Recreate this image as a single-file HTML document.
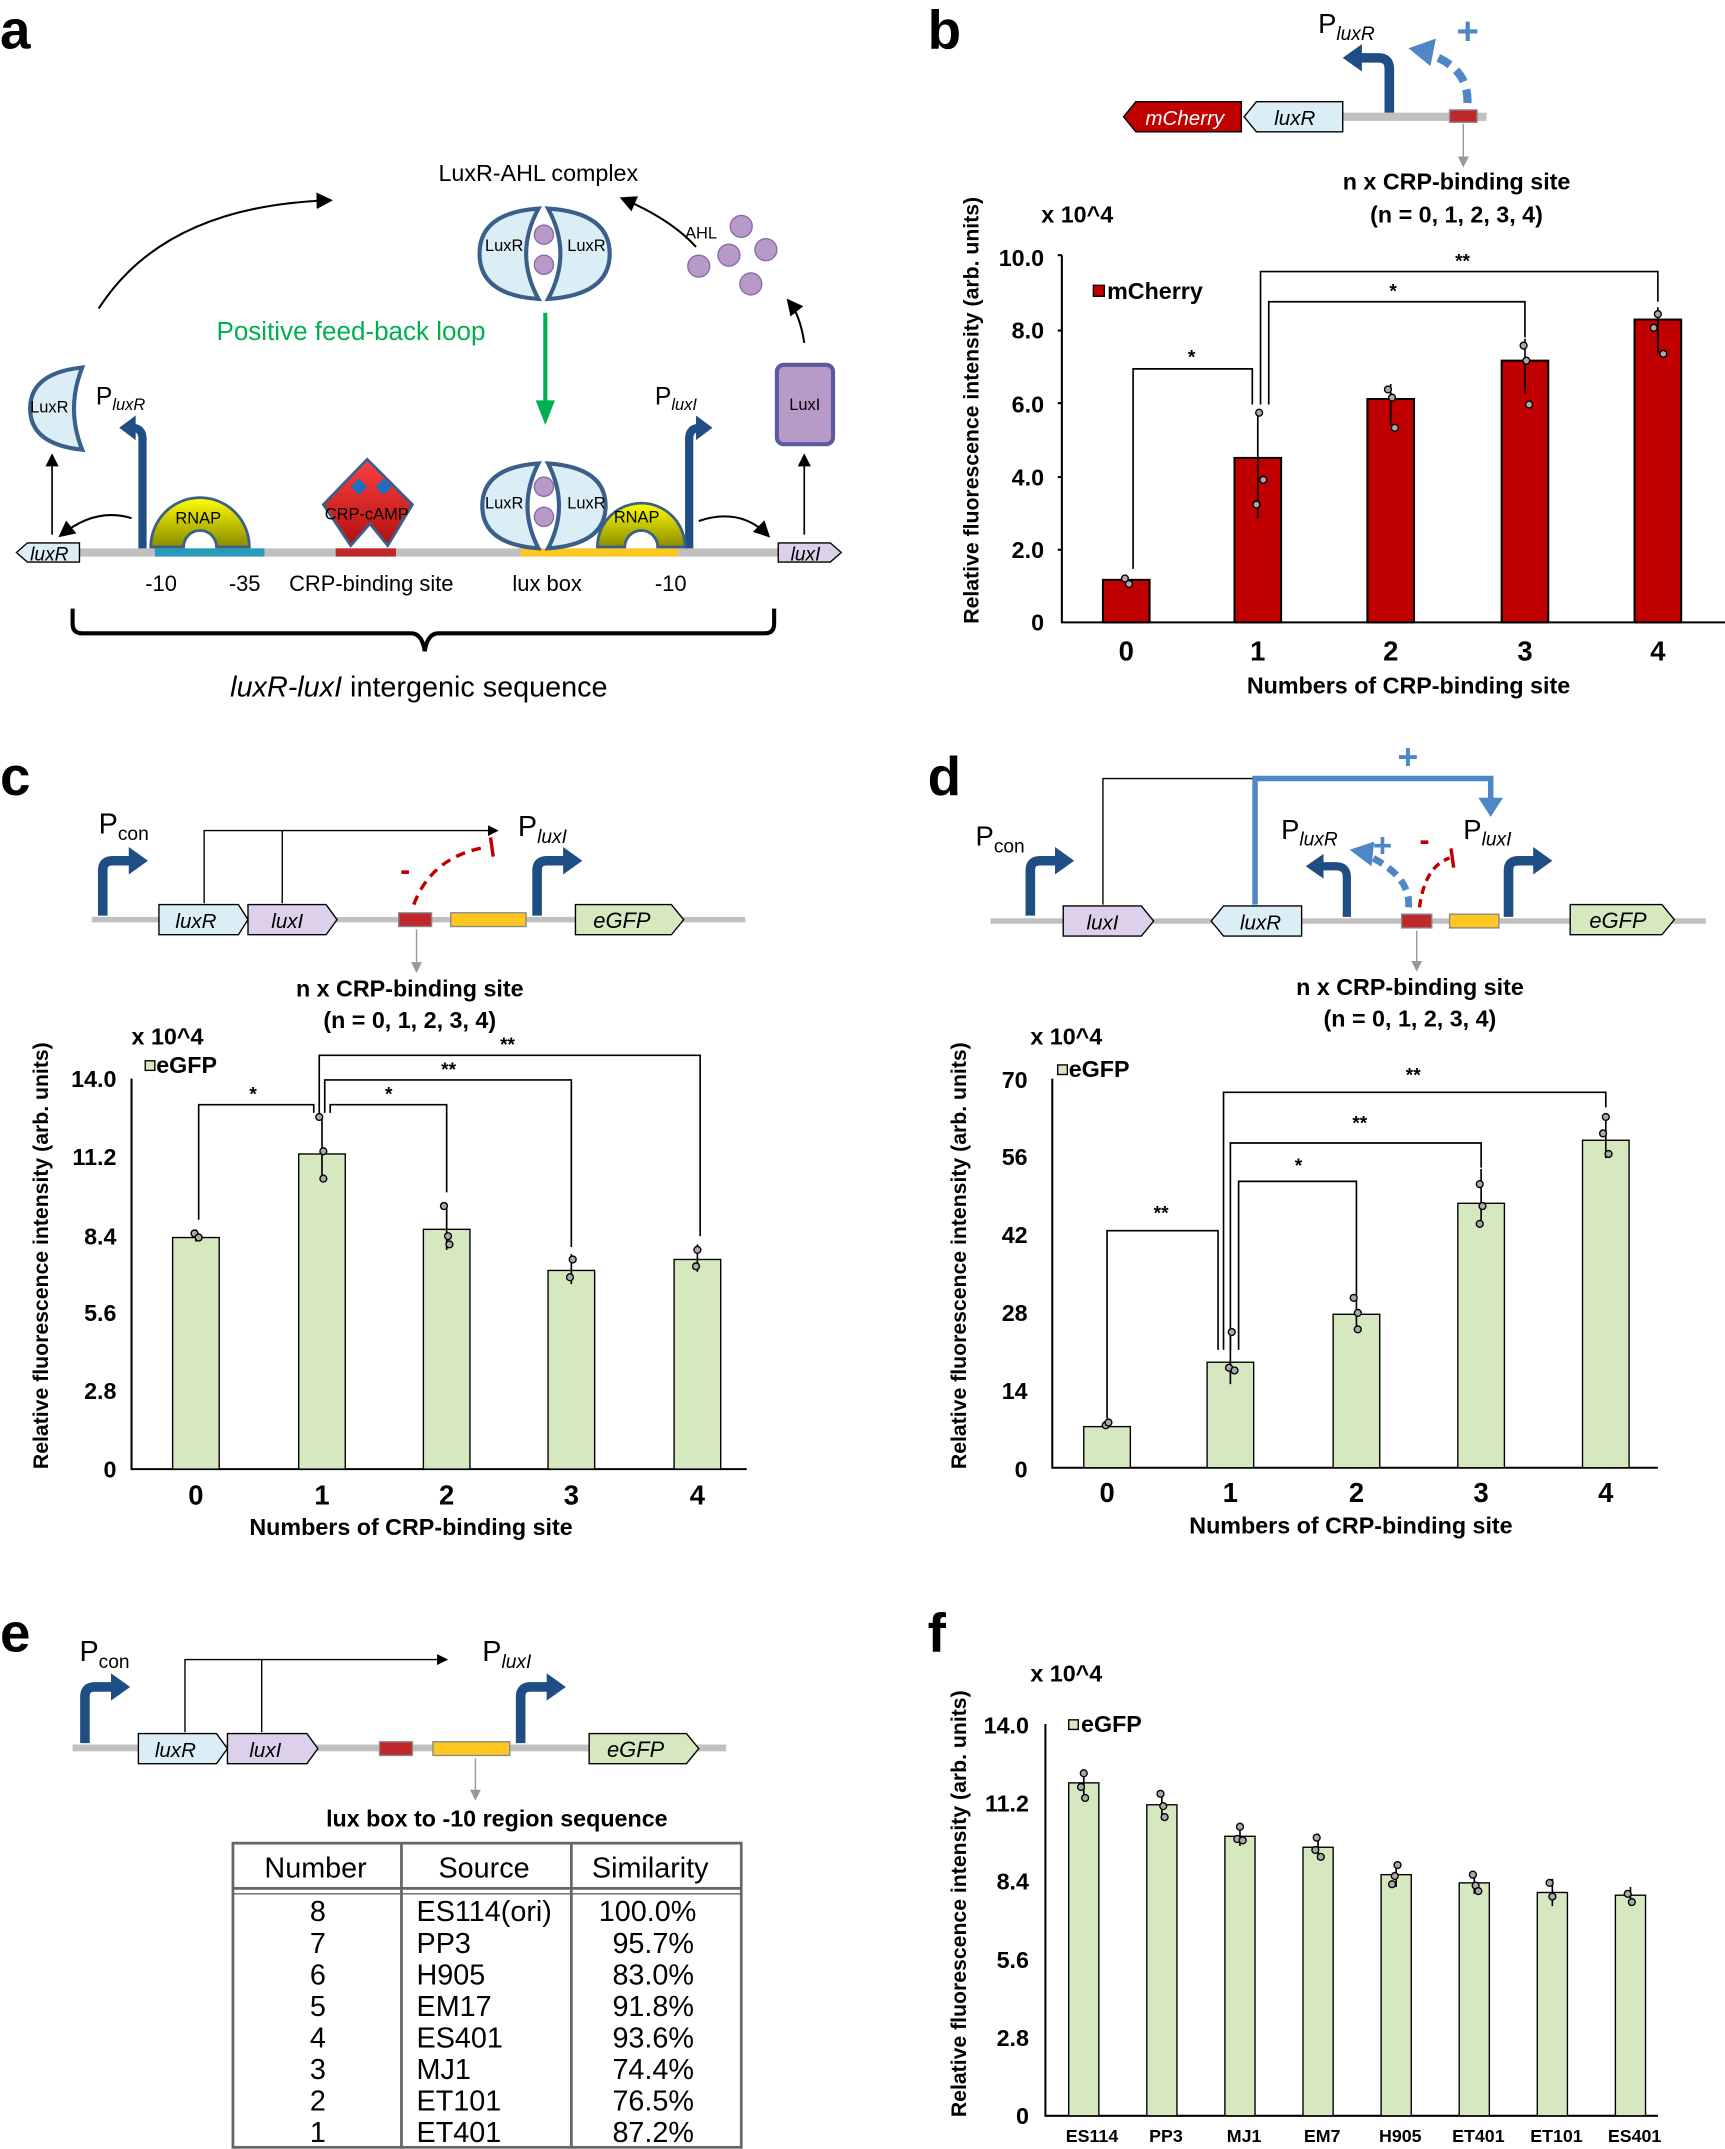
<!DOCTYPE html>
<html><head><meta charset="utf-8"><style>html,body{margin:0;padding:0;background:#fff}svg{display:block}text{font-family:"Liberation Sans",Arial,sans-serif}</style></head><body>
<svg width="1725" height="2149" viewBox="0 0 1259 1568" xmlns="http://www.w3.org/2000/svg">
<defs>
<marker id="ah" markerWidth="8" markerHeight="8" refX="6" refY="4" orient="auto"><path d="M0,0 L8,4 L0,8 z" fill="#000"/></marker>
<marker id="gh" markerWidth="8" markerHeight="8" refX="4" refY="4" orient="auto"><path d="M0,0 L8,4 L0,8 z" fill="#999"/></marker>
<linearGradient id="yg" x1="0" y1="0" x2="0" y2="1"><stop offset="0" stop-color="#ffff00"/><stop offset="1" stop-color="#8a8a00"/></linearGradient>
<linearGradient id="rg" x1="0" y1="0" x2="0" y2="1"><stop offset="0" stop-color="#ff4040"/><stop offset="1" stop-color="#b01010"/></linearGradient>
</defs>
<g font-weight="bold" font-size="40">
<text x="0" y="35">a</text><text x="677" y="35">b</text><text x="0" y="580">c</text><text x="677" y="580">d</text><text x="0" y="1205">e</text><text x="677" y="1205">f</text></g>

<!-- Panel a -->
<g>
<path d="M72,225 Q120,150 240,146" stroke="#000" fill="none" stroke-width="1.5" marker-end="url(#ah)"/>
<path d="M508,180 Q490,160 455,145" stroke="#000" fill="none" stroke-width="1.5" marker-end="url(#ah)"/>
<path d="M587,250 Q584,230 576,220" stroke="#000" fill="none" stroke-width="1.5" marker-end="url(#ah)"/>
<text x="320" y="132" font-size="17">LuxR-AHL complex</text>
<text x="500" y="174" font-size="12">AHL</text>
<g fill="#b89ac8" stroke="#8a6aa8"><circle cx="541" cy="165" r="8"/><circle cx="532" cy="186" r="8"/><circle cx="559" cy="182" r="8"/><circle cx="510" cy="194" r="8"/><circle cx="548" cy="207" r="8"/></g>
<g stroke="#3a5f8a" stroke-width="3" fill="#dbeef5">
<path d="M393,152 Q350,155 350,185 Q350,215 393,218 Q375,185 393,152z"/>
<path d="M400,152 Q445,155 445,185 Q445,215 400,218 Q418,185 400,152z"/></g>
<text x="354" y="183" font-size="12">LuxR</text><text x="414" y="183" font-size="12">LuxR</text>
<circle cx="397" cy="171" r="7" fill="#b89ac8" stroke="#8a6aa8"/><circle cx="397" cy="193" r="7" fill="#b89ac8" stroke="#8a6aa8"/>
<text x="158" y="248" font-size="19" fill="#00b050">Positive feed-back loop</text>
<line x1="398" y1="228" x2="398" y2="300" stroke="#00b050" stroke-width="3"/><path d="M391,292 L405,292 L398,310z" fill="#00b050"/>
<path d="M60,268 Q22,272 22,298 Q22,324 60,328 Q48,298 60,268z" fill="#dbeef5" stroke="#3a5f8a" stroke-width="3"/>
<text x="22" y="301" font-size="12">LuxR</text>
<text x="70" y="295" font-size="18">P<tspan font-size="12" font-style="italic" dy="4">luxR</tspan></text>
<text x="478" y="295" font-size="18">P<tspan font-size="12" font-style="italic" dy="4">luxI</tspan></text>
<rect x="567" y="266" width="41" height="58" rx="5" fill="#b89ac8" stroke="#5a5aa0" stroke-width="3"/>
<text x="576" y="299" font-size="12">LuxI</text>
<line x1="38" y1="390" x2="38" y2="333" stroke="#000" stroke-width="1.2" marker-end="url(#ah)"/>
<line x1="587" y1="390" x2="587" y2="333" stroke="#000" stroke-width="1.2" marker-end="url(#ah)"/>
<rect x="50" y="400" width="520" height="6" fill="#c0c0c0"/>
<rect x="113" y="400" width="80" height="6" fill="#2a9ab8"/><rect x="245" y="400" width="44" height="6" fill="#c0282c"/><rect x="380" y="400" width="115" height="6" fill="#ffc820"/>
<path d="M12,403 L20,396 L58,396 L58,410 L20,410z" fill="#dbeef5" stroke="#000"/><text x="22" y="409" font-size="14" font-style="italic">luxR</text>
<path d="M568,396 L606,396 L614,403 L606,410 L568,410z" fill="#ddd0ea" stroke="#000"/><text x="577" y="409" font-size="14" font-style="italic">luxI</text>
<path d="M104,400 L104,320 Q104,312 96,312" stroke="#1f4e85" stroke-width="6" fill="none"/><path d="M87,312 L99,303 L99,321z" fill="#1f4e85"/>
<path d="M503,400 L503,320 Q503,312 511,312" stroke="#1f4e85" stroke-width="6" fill="none"/><path d="M520,312 L508,303 L508,321z" fill="#1f4e85"/>
<path d="M96,378 Q70,370 45,390" stroke="#000" fill="none" stroke-width="1.5" marker-end="url(#ah)"/>
<path d="M510,380 Q540,370 560,390" stroke="#000" fill="none" stroke-width="1.5" marker-end="url(#ah)"/>
<path d="M110,399 A36,36 0 0 1 182,399 L158,399 A12,12 0 0 0 134,399 z" fill="url(#yg)" stroke="#3a5f8a" stroke-width="2"/>
<text x="128" y="382" font-size="12">RNAP</text>
<path d="M436,399 A32,32 0 0 1 500,399 L480,399 A12,12 0 0 0 456,399 z" fill="url(#yg)" stroke="#3a5f8a" stroke-width="2"/>
<path d="M268,335 L301,368 L283,398 L270,382 L256,398 L236,368z" fill="url(#rg)" stroke="#3a5f8a" stroke-width="2"/>
<path d="M262,349 L268,355 L262,361 L256,355z M280,349 L286,355 L280,361 L274,355z" fill="#1f6fbf"/>
<text x="237" y="379" font-size="12">CRP-cAMP</text>
<g stroke="#3a5f8a" stroke-width="3" fill="#dbeef5">
<path d="M393,338 Q352,341 352,369 Q352,397 393,400 Q377,369 393,338z"/>
<path d="M400,338 Q442,341 442,369 Q442,397 400,400 Q416,369 400,338z"/></g>
<text x="448" y="381" font-size="12">RNAP</text>
<text x="354" y="371" font-size="12">LuxR</text><text x="414" y="371" font-size="12">LuxR</text>
<circle cx="397" cy="355" r="7" fill="#b89ac8" stroke="#8a6aa8"/><circle cx="397" cy="377" r="7" fill="#b89ac8" stroke="#8a6aa8"/>
<g font-size="16"><text x="106" y="431">-10</text><text x="167" y="431">-35</text><text x="211" y="431">CRP-binding site</text><text x="374" y="431">lux box</text><text x="478" y="431">-10</text></g>
<path d="M53,444 L53,455 Q53,462 60,462 L300,462 Q308,462 310,475 Q312,462 320,462 L558,462 Q565,462 565,455 L565,444" stroke="#000" stroke-width="3" fill="none"/>
<text x="168" y="508" font-size="21"><tspan font-style="italic">luxR-luxI</tspan> intergenic sequence</text>
</g>

<!-- Panel b -->
<g>
<rect x="980" y="82" width="105" height="6" fill="#c0c0c0"/><rect x="1058" y="80" width="20" height="9" fill="#c0282c" stroke="#888"/>
<path d="M820,85 L829,74 L906,74 L906,96 L829,96z" fill="#c00000" stroke="#000"/><text x="836" y="91" font-size="15" font-style="italic" fill="#fff">mCherry</text>
<path d="M908,85 L917,74 L980,74 L980,96 L917,96z" fill="#dbeef5" stroke="#000"/><text x="930" y="91" font-size="15" font-style="italic">luxR</text>
<path d="M1014,82 L1014,50 Q1014,42 1006,42 L992,42" stroke="#1f4e85" stroke-width="7" fill="none"/><path d="M980,42 L994,32 L994,52z" fill="#1f4e85"/>
<path d="M1071,75 Q1072,50 1045,40" stroke="#4f86c6" stroke-width="6" fill="none" stroke-dasharray="10,6"/><path d="M1028,35 L1048,28 L1044,48z" fill="#4f86c6"/>
<text x="1063" y="32" font-size="28" font-weight="bold" fill="#4f86c6">+</text>
<text x="962" y="24" font-size="20">P<tspan font-size="14" font-style="italic" dy="5">luxR</tspan></text>
<line x1="1068" y1="90" x2="1068" y2="118" stroke="#999" marker-end="url(#gh)"/>
<g font-size="17" font-weight="bold"><text x="980" y="138">n x CRP-binding site</text><text x="1000" y="162">(n = 0, 1, 2, 3, 4)</text><text x="760" y="162">x 10^4</text>
<text x="762" y="194" text-anchor="end">10.0</text><text x="762" y="247" text-anchor="end">8.0</text><text x="762" y="301" text-anchor="end">6.0</text><text x="762" y="354" text-anchor="end">4.0</text><text x="762" y="407" text-anchor="end">2.0</text><text x="762" y="460" text-anchor="end">0</text>
<text x="822" y="482" text-anchor="middle" font-size="20">0</text><text x="918" y="482" text-anchor="middle" font-size="20">1</text><text x="1015" y="482" text-anchor="middle" font-size="20">2</text><text x="1113" y="482" text-anchor="middle" font-size="20">3</text><text x="1210" y="482" text-anchor="middle" font-size="20">4</text>
<text x="1028" y="506" text-anchor="middle">Numbers of CRP-binding site</text>
<text x="808" y="218">mCherry</text>
<text transform="translate(714,455) rotate(-90)" font-size="15.5">Relative fluorescence intensity (arb. units)</text></g>
<rect x="798" y="208" width="8" height="8" fill="#c00000" stroke="#000"/>
<path d="M775,186 L775,454 L1259,454" stroke="#000" stroke-width="1.5" fill="none"/>
<g stroke="#000" stroke-width="1.5"><line x1="772" y1="186" x2="775" y2="186"/><line x1="772" y1="241" x2="775" y2="241"/><line x1="772" y1="294" x2="775" y2="294"/><line x1="772" y1="348" x2="775" y2="348"/><line x1="772" y1="401" x2="775" y2="401"/></g>
<g fill="#c00000" stroke="#000" stroke-width="1.5"><rect x="805" y="423" width="34" height="31"/><rect x="901" y="334" width="34" height="120"/><rect x="998" y="291" width="34" height="163"/><rect x="1096" y="263" width="34" height="191"/><rect x="1193" y="233" width="34" height="221"/></g>
<g stroke="#000" stroke-width="1.2" fill="none">
<path d="M918,302 L918,378 M1015,280 L1015,310 M1113,247 L1113,287 M1210,224 L1210,258"/>
<path d="M827,415 L827,269 L914,269 L914,295 M920,295 L920,198 L1210,198 L1210,220 M926,295 L926,220 L1113,220 L1113,246"/></g>
<g fill="#aaa" stroke="#000" stroke-width="1"><circle cx="821" cy="422" r="2.5"/><circle cx="824" cy="426" r="2.5"/><circle cx="919" cy="301" r="2.5"/><circle cx="922" cy="350" r="2.5"/><circle cx="917" cy="368" r="2.5"/><circle cx="1013" cy="284" r="2.5"/><circle cx="1016" cy="290" r="2.5"/><circle cx="1018" cy="312" r="2.5"/><circle cx="1112" cy="252" r="2.5"/><circle cx="1114" cy="263" r="2.5"/><circle cx="1116" cy="295" r="2.5"/><circle cx="1210" cy="229" r="2.5"/><circle cx="1207" cy="239" r="2.5"/><circle cx="1214" cy="258" r="2.5"/></g>
<g font-size="14" font-weight="bold"><text x="867" y="265">*</text><text x="1014" y="217">*</text><text x="1062" y="195">**</text></g>
</g>

<!-- Panel c -->
<g>
<rect x="67" y="669" width="477" height="4" fill="#c0c0c0"/>
<path d="M75,668 L75,635 Q75,628 82,628 L96,628" stroke="#1f4e85" stroke-width="7" fill="none"/><path d="M108,628 L94,618 L94,638z" fill="#1f4e85"/>
<text x="72" y="608" font-size="21">P<tspan font-size="14" dy="5">con</tspan></text>
<path d="M116,660 L174,660 L181,671 L174,682 L116,682z" fill="#dbeef5" stroke="#000"/><text x="128" y="677" font-size="15" font-style="italic">luxR</text>
<path d="M181,660 L238,660 L246,671 L238,682 L181,682z" fill="#ddd0ea" stroke="#000"/><text x="198" y="677" font-size="15" font-style="italic">luxI</text>
<path d="M149,659 L149,606 L362,606" stroke="#000" fill="none" marker-end="url(#ah)"/><path d="M206,659 L206,606" stroke="#000" fill="none"/>
<rect x="291" y="666" width="24" height="10" fill="#c0282c" stroke="#888"/><rect x="329" y="666" width="55" height="10" fill="#ffc820" stroke="#888"/>
<path d="M392,668 L392,635 Q392,628 399,628 L412,628" stroke="#1f4e85" stroke-width="7" fill="none"/><path d="M425,628 L411,618 L411,638z" fill="#1f4e85"/>
<text x="378" y="610" font-size="21">P<tspan font-size="14" font-style="italic" dy="5">luxI</tspan></text>
<path d="M420,660 L490,660 L499,671 L490,682 L420,682z" fill="#d5e8c0" stroke="#000"/><text x="433" y="677" font-size="16" font-style="italic">eGFP</text>
<path d="M302,660 Q315,625 355,618" stroke="#c00000" stroke-width="2.5" stroke-dasharray="7,5" fill="none"/><line x1="358" y1="611" x2="360" y2="625" stroke="#c00000" stroke-width="2.5"/>
<text x="292" y="642" font-size="22" fill="#c00000" font-weight="bold">-</text>
<line x1="304" y1="678" x2="304" y2="706" stroke="#999" marker-end="url(#gh)"/>
<g font-size="17" font-weight="bold"><text x="216" y="727">n x CRP-binding site</text><text x="236" y="750">(n = 0, 1, 2, 3, 4)</text><text x="96" y="762">x 10^4</text>
<text x="85" y="793" text-anchor="end">14.0</text><text x="85" y="850" text-anchor="end">11.2</text><text x="85" y="908" text-anchor="end">8.4</text><text x="85" y="964" text-anchor="end">5.6</text><text x="85" y="1021" text-anchor="end">2.8</text><text x="85" y="1078" text-anchor="end">0</text>
<text x="143" y="1098" text-anchor="middle" font-size="20">0</text><text x="235" y="1098" text-anchor="middle" font-size="20">1</text><text x="326" y="1098" text-anchor="middle" font-size="20">2</text><text x="417" y="1098" text-anchor="middle" font-size="20">3</text><text x="509" y="1098" text-anchor="middle" font-size="20">4</text>
<text x="300" y="1120" text-anchor="middle">Numbers of CRP-binding site</text>
<text x="114" y="783">eGFP</text>
<text transform="translate(35,1072) rotate(-90)" font-size="15.5">Relative fluorescence intensity (arb. units)</text></g>
<rect x="106" y="774" width="7" height="7" fill="#d5e8c0" stroke="#000"/>
<path d="M96,787 L96,1072 L545,1072" stroke="#000" stroke-width="1.5" fill="none"/>
<g fill="#d5e8c0" stroke="#000" stroke-width="1"><rect x="126" y="903" width="34" height="169"/><rect x="218" y="842" width="34" height="230"/><rect x="309" y="897" width="34" height="175"/><rect x="400" y="927" width="34" height="145"/><rect x="492" y="919" width="34" height="153"/></g>
<g stroke="#000" stroke-width="1.2" fill="none">
<path d="M235,815 L235,862 M326,878 L326,912 M417,915 L417,937 M509,908 L509,928 M143,897 L143,906"/>
<path d="M145,890 L145,806 L229,806 L229,812 M233,812 L233,770 L511,770 L511,902 M237,812 L237,788 L417,788 L417,910 M241,812 L241,806 L326,806 L326,870"/></g>
<g fill="#aaa" stroke="#000" stroke-width="1"><circle cx="142" cy="900" r="2.5"/><circle cx="145" cy="903" r="2.5"/><circle cx="233" cy="815" r="2.5"/><circle cx="236" cy="840" r="2.5"/><circle cx="236" cy="860" r="2.5"/><circle cx="324" cy="880" r="2.5"/><circle cx="327" cy="902" r="2.5"/><circle cx="328" cy="908" r="2.5"/><circle cx="418" cy="919" r="2.5"/><circle cx="416" cy="932" r="2.5"/><circle cx="509" cy="912" r="2.5"/><circle cx="508" cy="924" r="2.5"/></g>
<g font-size="14" font-weight="bold"><text x="182" y="803">*</text><text x="281" y="803">*</text><text x="322" y="785">**</text><text x="365" y="767">**</text></g>
</g>

<!-- Panel d -->
<g>
<rect x="723" y="670" width="522" height="4" fill="#c0c0c0"/>
<path d="M752,668 L752,635 Q752,628 759,628 L771,628" stroke="#1f4e85" stroke-width="7" fill="none"/><path d="M784,628 L770,618 L770,638z" fill="#1f4e85"/>
<text x="712" y="617" font-size="20">P<tspan font-size="14" dy="5">con</tspan></text>
<path d="M776,661 L833,661 L842,672 L833,683 L776,683z" fill="#ddd0ea" stroke="#000"/><text x="793" y="678" font-size="15" font-style="italic">luxI</text>
<path d="M805,660 L805,568 L916,568" stroke="#000" fill="none"/>
<path d="M884,672 L893,661 L950,661 L950,683 L893,683z" fill="#dbeef5" stroke="#000"/><text x="905" y="678" font-size="15" font-style="italic">luxR</text>
<path d="M916,660 L916,568 L1088,568 L1088,585" stroke="#4f86c6" stroke-width="4" fill="none"/><path d="M1079,582 L1097,582 L1088,596z" fill="#4f86c6"/>
<text x="1020" y="561" font-size="26" font-weight="bold" fill="#4f86c6">+</text>
<path d="M983,669 L983,640 Q983,632 975,632 L965,632" stroke="#1f4e85" stroke-width="6" fill="none"/><path d="M953,632 L966,623 L966,641z" fill="#1f4e85"/>
<text x="935" y="612" font-size="20">P<tspan font-size="14" font-style="italic" dy="5">luxR</tspan></text>
<rect x="1023" y="667" width="22" height="10" fill="#c0282c" stroke="#888"/><rect x="1058" y="667" width="36" height="10" fill="#ffc820" stroke="#888"/>
<path d="M1028,662 Q1030,640 1000,625" stroke="#4f86c6" stroke-width="5" stroke-dasharray="8,5" fill="none"/><path d="M985,620 L1003,614 L1001,632z" fill="#4f86c6"/>
<text x="1002" y="625" font-size="24" font-weight="bold" fill="#4f86c6">+</text>
<path d="M1036,662 Q1040,632 1058,626" stroke="#c00000" stroke-width="2.5" stroke-dasharray="6,4" fill="none"/><line x1="1059" y1="619" x2="1061" y2="633" stroke="#c00000" stroke-width="2.5"/>
<text x="1036" y="620" font-size="22" fill="#c00000" font-weight="bold">-</text>
<text x="1068" y="612" font-size="20">P<tspan font-size="14" font-style="italic" dy="5">luxI</tspan></text>
<path d="M1101,669 L1101,635 Q1101,628 1108,628 L1120,628" stroke="#1f4e85" stroke-width="7" fill="none"/><path d="M1133,628 L1119,618 L1119,638z" fill="#1f4e85"/>
<path d="M1146,660 L1213,660 L1222,671 L1213,682 L1146,682z" fill="#d5e8c0" stroke="#000"/><text x="1160" y="677" font-size="16" font-style="italic">eGFP</text>
<line x1="1034" y1="679" x2="1034" y2="705" stroke="#999" marker-end="url(#gh)"/>
<g font-size="17" font-weight="bold"><text x="946" y="726">n x CRP-binding site</text><text x="966" y="749">(n = 0, 1, 2, 3, 4)</text><text x="752" y="762">x 10^4</text>
<text x="750" y="794" text-anchor="end">70</text><text x="750" y="850" text-anchor="end">56</text><text x="750" y="907" text-anchor="end">42</text><text x="750" y="964" text-anchor="end">28</text><text x="750" y="1021" text-anchor="end">14</text><text x="750" y="1078" text-anchor="end">0</text>
<text x="808" y="1096" text-anchor="middle" font-size="20">0</text><text x="898" y="1096" text-anchor="middle" font-size="20">1</text><text x="990" y="1096" text-anchor="middle" font-size="20">2</text><text x="1081" y="1096" text-anchor="middle" font-size="20">3</text><text x="1172" y="1096" text-anchor="middle" font-size="20">4</text>
<text x="986" y="1119" text-anchor="middle">Numbers of CRP-binding site</text>
<text x="780" y="786">eGFP</text>
<text transform="translate(705,1072) rotate(-90)" font-size="15.5">Relative fluorescence intensity (arb. units)</text></g>
<rect x="772" y="777" width="7" height="7" fill="#d5e8c0" stroke="#000"/>
<path d="M768,787 L768,1071 L1210,1071" stroke="#000" stroke-width="1.5" fill="none"/>
<g fill="#d5e8c0" stroke="#000" stroke-width="1"><rect x="791" y="1041" width="34" height="30"/><rect x="881" y="994" width="34" height="77"/><rect x="973" y="959" width="34" height="112"/><rect x="1064" y="878" width="34" height="193"/><rect x="1155" y="832" width="34" height="239"/></g>
<g stroke="#000" stroke-width="1.2" fill="none">
<path d="M898,972 L898,1010 M990,947 L990,970 M1081,853 L1081,895 M1172,815 L1172,845"/>
<path d="M808,1035 L808,898 L889,898 L889,985 M893,985 L893,797 L1172,797 L1172,808 M898,985 L898,834 L1081,834 L1081,852 M904,985 L904,862 L990,862 L990,946"/></g>
<g fill="#aaa" stroke="#000" stroke-width="1"><circle cx="807" cy="1040" r="2.5"/><circle cx="809" cy="1038" r="2.5"/><circle cx="899" cy="972" r="2.5"/><circle cx="897" cy="998" r="2.5"/><circle cx="901" cy="1000" r="2.5"/><circle cx="988" cy="947" r="2.5"/><circle cx="991" cy="958" r="2.5"/><circle cx="991" cy="970" r="2.5"/><circle cx="1080" cy="864" r="2.5"/><circle cx="1082" cy="880" r="2.5"/><circle cx="1080" cy="893" r="2.5"/><circle cx="1172" cy="815" r="2.5"/><circle cx="1170" cy="827" r="2.5"/><circle cx="1174" cy="842" r="2.5"/></g>
<g font-size="14" font-weight="bold"><text x="842" y="890">**</text><text x="945" y="855">*</text><text x="987" y="824">**</text><text x="1026" y="789">**</text></g>
</g>

<!-- Panel e -->
<g>
<rect x="53" y="1273" width="477" height="5" fill="#c0c0c0"/>
<path d="M62,1272 L62,1238 Q62,1231 69,1231 L82,1231" stroke="#1f4e85" stroke-width="7" fill="none"/><path d="M95,1231 L81,1221 L81,1241z" fill="#1f4e85"/>
<text x="58" y="1212" font-size="21">P<tspan font-size="14" dy="5">con</tspan></text>
<path d="M101,1265 L158,1265 L166,1276 L158,1287 L101,1287z" fill="#dbeef5" stroke="#000"/><text x="113" y="1282" font-size="15" font-style="italic">luxR</text>
<path d="M166,1265 L224,1265 L232,1276 L224,1287 L166,1287z" fill="#ddd0ea" stroke="#000"/><text x="182" y="1282" font-size="15" font-style="italic">luxI</text>
<path d="M135,1264 L135,1211 L325,1211" stroke="#000" fill="none" marker-end="url(#ah)"/><path d="M191,1264 L191,1211" stroke="#000" fill="none"/>
<rect x="277" y="1271" width="24" height="10" fill="#c0282c" stroke="#888"/><rect x="316" y="1271" width="56" height="10" fill="#ffc820" stroke="#888"/>
<path d="M380,1272 L380,1238 Q380,1231 387,1231 L400,1231" stroke="#1f4e85" stroke-width="7" fill="none"/><path d="M413,1231 L399,1221 L399,1241z" fill="#1f4e85"/>
<text x="352" y="1212" font-size="21">P<tspan font-size="14" font-style="italic" dy="5">luxI</tspan></text>
<path d="M430,1265 L501,1265 L510,1276 L501,1287 L430,1287z" fill="#d5e8c0" stroke="#000"/><text x="443" y="1282" font-size="16" font-style="italic">eGFP</text>
<line x1="347" y1="1283" x2="347" y2="1310" stroke="#999" marker-end="url(#gh)"/>
<text x="238" y="1333" font-size="17" font-weight="bold">lux box to -10 region sequence</text>
<rect x="170" y="1345" width="371" height="222" fill="none" stroke="#666" stroke-width="2"/>
<line x1="170" y1="1378" x2="541" y2="1378" stroke="#666" stroke-width="2"/><line x1="170" y1="1382" x2="541" y2="1382" stroke="#666" stroke-width="1"/>
<line x1="293" y1="1345" x2="293" y2="1567" stroke="#666" stroke-width="2"/><line x1="417" y1="1345" x2="417" y2="1567" stroke="#666" stroke-width="2"/>
<g font-size="21"><text x="193" y="1370">Number</text><text x="320" y="1370">Source</text><text x="432" y="1370">Similarity</text>
<text x="232" y="1402" text-anchor="middle">8</text><text x="232" y="1425" text-anchor="middle">7</text><text x="232" y="1448" text-anchor="middle">6</text><text x="232" y="1471" text-anchor="middle">5</text><text x="232" y="1494" text-anchor="middle">4</text><text x="232" y="1517" text-anchor="middle">3</text><text x="232" y="1540" text-anchor="middle">2</text><text x="232" y="1563" text-anchor="middle">1</text>
<text x="304" y="1402">ES114(ori)</text><text x="304" y="1425">PP3</text><text x="304" y="1448">H905</text><text x="304" y="1471">EM17</text><text x="304" y="1494">ES401</text><text x="304" y="1517">MJ1</text><text x="304" y="1540">ET101</text><text x="304" y="1563">ET401</text>
<text x="437" y="1402">100.0%</text><text x="447" y="1425">95.7%</text><text x="447" y="1448">83.0%</text><text x="447" y="1471">91.8%</text><text x="447" y="1494">93.6%</text><text x="447" y="1517">74.4%</text><text x="447" y="1540">76.5%</text><text x="447" y="1563">87.2%</text></g>
</g>

<!-- Panel f -->
<g>
<g font-size="17" font-weight="bold"><text x="752" y="1227">x 10^4</text>
<text x="751" y="1265" text-anchor="end">14.0</text><text x="751" y="1322" text-anchor="end">11.2</text><text x="751" y="1379" text-anchor="end">8.4</text><text x="751" y="1436" text-anchor="end">5.6</text><text x="751" y="1493" text-anchor="end">2.8</text><text x="751" y="1550" text-anchor="end">0</text>
<text x="789" y="1264">eGFP</text>
<text transform="translate(705,1545) rotate(-90)" font-size="15.5">Relative fluorescence intensity (arb. units)</text></g>
<rect x="780" y="1255" width="7" height="7" fill="#d5e8c0" stroke="#000"/>
<g font-size="13" font-weight="bold" text-anchor="middle"><text x="797" y="1563">ES114</text><text x="851" y="1563">PP3</text><text x="908" y="1563">MJ1</text><text x="965" y="1563">EM7</text><text x="1022" y="1563">H905</text><text x="1079" y="1563">ET401</text><text x="1136" y="1563">ET101</text><text x="1193" y="1563">ES401</text></g>
<path d="M763,1258 L763,1544 L1210,1544" stroke="#000" stroke-width="1.5" fill="none"/>
<g fill="#d5e8c0" stroke="#000" stroke-width="1"><rect x="780" y="1301" width="22" height="243"/><rect x="837" y="1317" width="22" height="227"/><rect x="894" y="1340" width="22" height="204"/><rect x="951" y="1348" width="22" height="196"/><rect x="1008" y="1368" width="22" height="176"/><rect x="1065" y="1374" width="22" height="170"/><rect x="1122" y="1381" width="22" height="163"/><rect x="1179" y="1383" width="22" height="161"/></g>
<g stroke="#000" stroke-width="1.2"><path d="M791,1292 L791,1313 M848,1307 L848,1328 M905,1330 L905,1347 M962,1338 L962,1357 M1019,1359 L1019,1377 M1076,1366 L1076,1382 M1133,1371 L1133,1391 M1190,1377 L1190,1391"/></g>
<g fill="#aaa" stroke="#000" stroke-width="1"><circle cx="791" cy="1294" r="2.5"/><circle cx="789" cy="1304" r="2.5"/><circle cx="792" cy="1312" r="2.5"/><circle cx="847" cy="1309" r="2.5"/><circle cx="849" cy="1318" r="2.5"/><circle cx="850" cy="1326" r="2.5"/><circle cx="905" cy="1333" r="2.5"/><circle cx="903" cy="1342" r="2.5"/><circle cx="907" cy="1343" r="2.5"/><circle cx="961" cy="1341" r="2.5"/><circle cx="960" cy="1350" r="2.5"/><circle cx="964" cy="1355" r="2.5"/><circle cx="1020" cy="1361" r="2.5"/><circle cx="1018" cy="1369" r="2.5"/><circle cx="1016" cy="1375" r="2.5"/><circle cx="1075" cy="1368" r="2.5"/><circle cx="1077" cy="1376" r="2.5"/><circle cx="1079" cy="1380" r="2.5"/><circle cx="1131" cy="1374" r="2.5"/><circle cx="1133" cy="1384" r="2.5"/><circle cx="1188" cy="1382" r="2.5"/><circle cx="1191" cy="1388" r="2.5"/></g>
</g>
</svg>
</body></html>
